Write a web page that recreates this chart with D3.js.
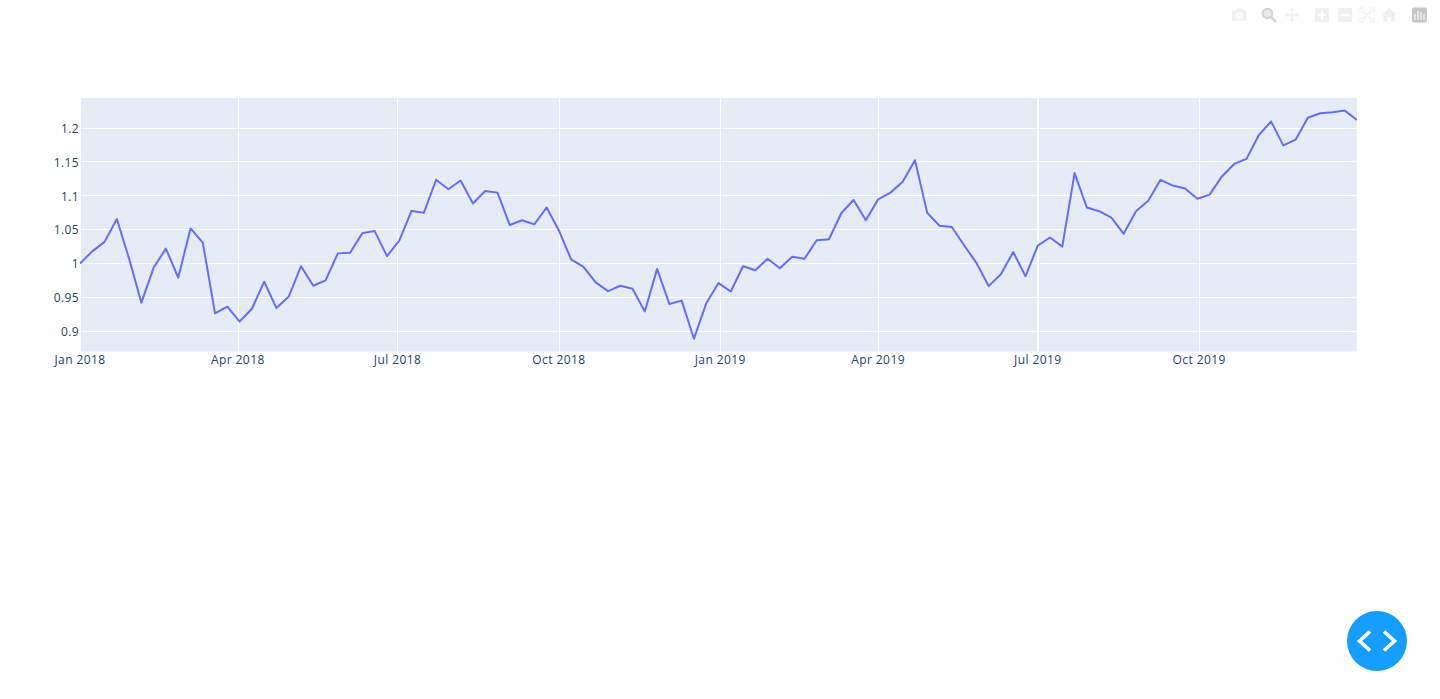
<!DOCTYPE html>
<html>
<head>
<meta charset="utf-8">
<script src="https://cdn.jsdelivr.net/npm/d3@7/dist/d3.min.js"></script>
<style>
html,body{margin:0;padding:0;background:#fff;overflow:hidden}
svg{display:block}
text{font-family:"Open Sans",verdana,arial,sans-serif;font-size:12px;letter-spacing:0.4px;fill:#2a3f5f}
</style>
</head>
<body>
<svg id="chart" width="1440" height="699"></svg>
<script>
const startDate = "2018-01-01";
const endDate = "2019-12-30";
const values = [
1.000,1.018,1.032,1.066,1.007,0.942,0.994,1.022,0.979,1.052,1.031,0.926,0.936,0.914,0.933,0.973,0.934,0.951,0.996,0.967,0.975,
1.015,1.016,1.045,1.048,1.011,1.034,1.078,1.075,1.124,1.110,1.123,1.089,1.1075,1.105,1.057,1.064,1.058,1.083,1.049,1.006,0.995,
0.972,0.959,0.967,0.9625,0.929,0.992,0.940,0.945,0.8885,0.941,0.971,0.9585,0.996,0.990,1.007,0.993,1.010,1.007,1.0345,1.036,1.0745,
1.094,1.064,1.095,1.105,1.121,1.153,1.075,1.056,1.054,1.027,1.001,0.9665,0.984,1.017,0.981,1.0265,1.0385,1.025,1.134,1.083,1.0775,
1.068,1.044,1.0775,1.093,1.124,1.1155,1.111,1.096,1.102,1.129,1.1475,1.155,1.19,1.2105,1.175,1.1835,1.216,1.2225,1.224,1.2265,1.2125
];
const xTickDates = ["2018-01-01","2018-04-01","2018-07-01","2018-10-01","2019-01-01","2019-04-01","2019-07-01","2019-10-01"];
const xTickLabels = ["Jan 2018","Apr 2018","Jul 2018","Oct 2018","Jan 2019","Apr 2019","Jul 2019","Oct 2019"];
const yTicks = [0.9,0.95,1,1.05,1.1,1.15,1.2];
const yTickLabels = ["0.9","0.95","1","1.05","1.1","1.15","1.2"];

const parse = d3.utcParse("%Y-%m-%d");
const dates = d3.utcDay.range(parse(startDate), d3.utcDay.offset(parse(endDate), 1), 7);

const plotL = 80, plotR = 1357, plotT = 98, plotB = 351.5;
const x = d3.scaleUtc().domain([parse(startDate), parse(endDate)]).range([plotL, plotR]);
const y = d3.scaleLinear().domain([0.9, 1.2]).range([331, 128.5]);
const yGrid = d3.scaleLinear().domain([0.9, 1.2]).range([331.1, 128.1]);

const svg = d3.select("#chart");
svg.append("defs").append("clipPath").attr("id","plot-clip")
  .append("rect").attr("x",plotL).attr("y",plotT).attr("width",plotR-plotL).attr("height",plotB-plotT);

svg.append("rect").attr("x",plotL).attr("y",plotT).attr("width",plotR-plotL).attr("height",plotB-plotT).attr("fill","#e5ecf6");

// gridlines
const crisp = v => Math.round(v) + 0.5;
const isWide = d => d === "2019-07-01";
svg.append("g").selectAll("line").data(yTicks).join("line")
  .attr("x1",plotL).attr("x2",plotR)
  .attr("y1",d=>crisp(yGrid(d)-0.5)).attr("y2",d=>crisp(yGrid(d)-0.5))
  .attr("stroke","#fff").attr("stroke-width",1);
svg.append("g").selectAll("line").data(xTickDates).join("line")
  .attr("y1",plotT).attr("y2",plotB)
  .attr("x1",d=>isWide(d) ? Math.round(x(parse(d))) : crisp(x(parse(d))))
  .attr("x2",d=>isWide(d) ? Math.round(x(parse(d))) : crisp(x(parse(d))))
  .attr("stroke","#fff").attr("stroke-width",d=>isWide(d) ? 2 : 1);

// series
const line = d3.line().x((d,i)=>x(dates[i])).y(d=>y(d));
svg.append("path").datum(values).attr("d",line)
  .attr("clip-path","url(#plot-clip)")
  .attr("fill","none").attr("stroke","#636efa").attr("stroke-width",2)
  .attr("stroke-linejoin","round");

// tick labels
svg.append("g").selectAll("text").data(xTickDates).join("text")
  .attr("x",d=>x(parse(d))).attr("y",364).attr("text-anchor","middle")
  .text((d,i)=>xTickLabels[i]);
svg.append("g").selectAll("text").data(yTicks).join("text")
  .attr("x",79).attr("y",d=>y(d)+4.5).attr("text-anchor","end")
  .text((d,i)=>yTickLabels[i]);

// modebar
const mb = svg.append("g").attr("class","modebar");
const faint = "#f0f0f0";
// camera
const cam = mb.append("g").attr("transform","translate(1239.5,15)").attr("fill",faint);
cam.append("path").attr("fill-rule","evenodd")
  .attr("d","M-7.5,-4.5H-3.5L-2.5,-6.5H2.5L3.5,-4.5H7.5V5.5H-7.5ZM0,-2.8A3.3,3.3 0 1 0 0.01,-2.8ZM0,-1.2A1.7,1.7 0 1 1 -0.01,-1.2Z");
// zoom
const zm = mb.append("g").attr("transform","translate(1269,15)");
zm.append("circle").attr("cx",-1.5).attr("cy",-1.5).attr("r",4.8).attr("fill","#e8e8e8").attr("stroke","#d4d4d4").attr("stroke-width",2);
zm.append("line").attr("x1",2).attr("y1",2).attr("x2",7).attr("y2",7).attr("stroke","#d8d8d8").attr("stroke-width",2.6);
// pan
const pan = mb.append("g").attr("transform","translate(1292,15)").attr("stroke",faint).attr("fill",faint);
pan.append("path").attr("fill","none").attr("stroke-width",1.6).attr("d","M-6,0H6M0,-6V6");
pan.append("path").attr("stroke","none").attr("d","M-7.5,0L-4.5,-2.5V2.5ZM7.5,0L4.5,-2.5V2.5ZM0,-7.5L-2.5,-4.5H2.5ZM0,7.5L-2.5,4.5H2.5Z");
// plus, minus
mb.append("path").attr("fill",faint).attr("fill-rule","evenodd")
  .attr("d","M1315,8h14v14h-14ZM1321,11v3h-3v2h3v3h2v-3h3v-2h-3v-3Z");
mb.append("path").attr("fill",faint).attr("fill-rule","evenodd")
  .attr("d","M1338,8h14v14h-14ZM1341,14v2h8v-2Z");
// autoscale
const as = mb.append("g").attr("transform","translate(1367,15)").attr("fill","none").attr("stroke",faint).attr("stroke-width",1.1);
as.append("path").attr("d","M-7,-3V-7H-3M3,-7H7V-3M7,3V7H3M-3,7H-7V3M-4.5,-4.5L4.5,4.5M4.5,-4.5L-4.5,4.5");
// home
mb.append("path").attr("fill",faint)
  .attr("d","M1389,8L1396.5,15H1394.5V21.5H1391V17H1387V21.5H1383.5V15H1381.5Z");
// logo
const logo = mb.append("g").attr("transform","translate(1419.5,15)");
logo.append("rect").attr("x",-7.5).attr("y",-7.5).attr("width",15).attr("height",15).attr("rx",2).attr("fill","#c6c6c6");
logo.append("path").attr("stroke","#f4f4f4").attr("stroke-width",1.4).attr("fill","none")
  .attr("d","M-4.5,5V-1M-1.5,5V-4M1.5,5V-3M4.5,5V-1");

// floating code button
svg.append("circle").attr("cx",1377).attr("cy",641).attr("r",30).attr("fill","#159dff");
svg.append("path").attr("fill","none").attr("stroke","#fff").attr("stroke-width",3.6)
  .attr("d","M1370,631.5L1359.5,641L1370,650.5M1384,631.5L1394.5,641L1384,650.5");
</script>
</body>
</html>
